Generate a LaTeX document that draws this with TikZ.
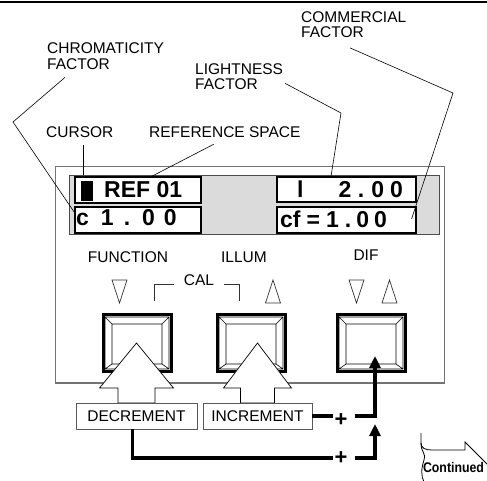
\documentclass[tikz,border=0pt]{standalone}
\usepackage{fontspec}
\setmainfont{Liberation Sans}
\usetikzlibrary{arrows.meta,calc}
\begin{document}
\begin{tikzpicture}[
        x=1pt, y=-1pt,
        lbl/.style={font=\fontsize{15.5}{15.5}\selectfont, inner sep=0pt, align=left},
        dsptxt/.style={font=\fontsize{23}{23}\selectfont\bfseries, inner sep=0pt, anchor=west},
        dspbox/.style={draw, line width=1.1pt, fill=white, inner sep=0pt},
        keylbl/.style={draw=black!65, line width=0.8pt, fill=white, minimum height=26pt,
          inner sep=0pt, font=\fontsize{15.5}{15.5}\selectfont},
        keyframe/.style={draw, line width=3pt, fill=white, minimum width=68pt,
          minimum height=57pt, inner sep=0pt},
        leader/.style={line width=0.6pt},
        tri/.style={draw=black!80, line width=0.7pt},
        bevel/.style={line width=0.6pt},
        conn/.style={line width=3.5pt},
        plussign/.style={font=\fontsize{22}{22}\selectfont\bfseries, inner sep=0pt, inner xsep=1.5pt}
      ]
      \useasboundingbox (0,0) rectangle (487,480);
      \draw[line width=2pt] (0,1.5) -- (487,1.5);
      \node[lbl, anchor=north west] (chroma) at (47,42.5) {CHROMATICITY\\FACTOR};
      \node[lbl, anchor=north west] (light) at (195,63) {LIGHTNESS\\FACTOR};
      \node[lbl, anchor=north west] (comm) at (301,11) {COMMERCIAL\\FACTOR};
      \node[lbl, anchor=west] (cursor) at (46,132.5) {CURSOR};
      \node[lbl, anchor=west] (refsp) at (149,132.5) {REFERENCE SPACE};
      \draw[draw=black!55, line width=1.2pt] (55.5,166.5) rectangle (444.5,383);
      \node[draw=black!70, line width=0.9pt, fill=black!14, minimum width=370pt,
        minimum height=59pt, inner sep=0pt] (band) at (254,204.5) {};
      \node[dspbox, minimum width=126pt, minimum height=26pt] (refbox) at (138,190) {};
      \node[dspbox, minimum width=126pt, minimum height=26pt] (cbox) at (138,220) {};
      \node[dspbox, minimum width=139pt, minimum height=25pt] (lbox) at (346.5,189.5) {};
      \node[dspbox, minimum width=139pt, minimum height=26pt] (cfbox) at (346.5,220) {};
      \fill (81,180.5) rectangle (93,200.5);
      \node[dsptxt] (reftxt) at (104,190) {REF 01};
      \node[dsptxt] (ctxt) at (76,218) {c\hspace{12pt}1\hspace{10pt}.\hspace{12pt}0\hspace{9pt}0};
      \node[dsptxt] (ltxt) at (297,189.5) {l\hspace{35pt}2\hspace{6.5pt}.\hspace{7pt}0\hspace{6pt}0};
      \node[dsptxt] (cftxt) at (280,219) {cf\hspace{6pt}=\hspace{6pt}1\hspace{6pt}.\hspace{5pt}0\hspace{5pt}0};
      \coordinate (chbend) at (13,122);
      \coordinate (ltbend) at (341,113);
      \coordinate (cmbend) at (453,93);
      \coordinate (curft) at ($(cursor.south)+(3.5,7)$);
      \draw[leader] ($(chroma.south west)+(18,8)$) -- (chbend) -- ($(cbox.north west)+(0,6)$);
      \draw[leader] (curft) -- (curft |- band.north);
      \draw[leader] ($(refsp.south)+(-11,6)$) -- ($(refbox.north west)+(77,0)$);
      \draw[leader] ($(light.east)+(2,7)$) -- (ltbend) -- ($(lbox.north)+(-15.5,0)$);
      \draw[leader] ($(comm.south west)+(49,10)$) -- (cmbend) -- ($(cfbox.east)+(-5,-1)$);
      \node[lbl] (fnlbl) at (128,257) {FUNCTION};
      \node[lbl] (illbl) at (244,257) {ILLUM};
      \node[lbl] (diflbl) at (366,255) {DIF};
      \node[lbl] (cal) at (199,280) {CAL};
      \draw[tri] (154,301) -- (154,284) -- (174,284) (224,284) -- (239,284) -- (239,301);
      \foreach \tx/\dir in {119.5/1, 273/-1, 356.5/1, 389.5/-1}
        \draw[tri] (\tx-7.5,291.5-11.5*\dir) -- (\tx+7.5,291.5-11.5*\dir) -- (\tx,291.5+11.5*\dir) -- cycle;
      \foreach \nm/\cx in {fnkey/137, ilkey/251, difkey/371} {
        \node[keyframe] (\nm) at (\cx,343) {};
        \draw[bevel] (\cx-32,317) rectangle (\cx+32,369)
        (\cx-25,324) rectangle (\cx+25,364)
        (\cx-32,317) -- (\cx-25,324) (\cx+32,317) -- (\cx+25,324)
        (\cx-32,369) -- (\cx-25,364) (\cx+32,369) -- (\cx+25,364);
      }
      \foreach \cx/\hw/\sw in {136.5/37/18.5, 257.5/34/17}
        \filldraw[fill=white, line width=0.7pt] (\cx,343) -- (\cx+\hw,388) -- (\cx+\sw,388)
        -- (\cx+\sw,403) -- (\cx-\sw,403) -- (\cx-\sw,388) -- (\cx-\hw,388) -- cycle;
      \node[keylbl, minimum width=121pt] (dec) at (136.5,416) {DECREMENT};
      \node[keylbl, minimum width=109pt] (inc) at (257.5,416) {INCREMENT};
      \node[plussign] (plusA) at (341,420) {+};
      \node[plussign] (plusB) at (341,458) {+};
      \coordinate (diftip) at (375,356);
      \coordinate (inctip) at (375,424);
      \draw[conn] (inc.east) -- (inc.east -| plusA.west);
      \draw[conn, -{Triangle[length=12pt,width=11pt]}] (plusA.east |- inc.east) ++(6,0) -| (diftip);
      \draw[conn] ([xshift=-4pt]dec.south) |- (plusB.west);
      \draw[conn, -{Triangle[length=12pt,width=11pt]}] (plusB.east) ++(6,0) -| (inctip);
      \draw[line width=0.8pt] (421,433) -- (421,443) .. controls (421,448) and (425,450) .. (432,450)
      -- (465,450) -- (465,442) -- (491,468);
      \draw[line width=0.8pt] (421,443) .. controls (421,453) and (426,452) .. (424,460)
      .. controls (421,469) and (421,476) .. (424,482);
      \node[font=\fontsize{14}{14}\selectfont\bfseries, inner sep=0pt] (cont) at (453.5,467)
      {\scalebox{0.88}[1]{Continued}};
    \end{tikzpicture}
\end{document}
